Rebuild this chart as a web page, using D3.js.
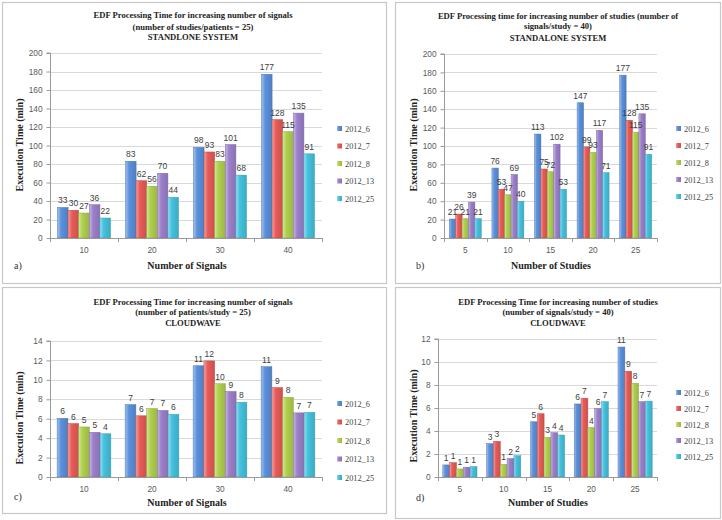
<!DOCTYPE html>
<html><head><meta charset="utf-8">
<script src="https://cdn.jsdelivr.net/npm/d3@7/dist/d3.min.js"></script>
<style>body{margin:0;background:#fff}svg{display:block}</style>
</head><body>
<svg id="chart" width="722" height="520"></svg>
<script>
// ---- data ----
const seriesNames = ["2012_6", "2012_7", "2012_8", "2012_13", "2012_25"];
const signalCategories = ["10", "20", "30", "40"];
const studyCategories = ["5", "10", "15", "20", "25"];
// rows = series (2012_6 .. 2012_25), columns = categories
const standaloneBySignals = [
  [33, 83, 98, 177],
  [30, 62, 93, 128],
  [27, 56, 83, 115],
  [36, 70, 101, 135],
  [21.6, 44, 68, 91]
];
const standaloneByStudies = [
  [20.6, 76, 113, 147, 177],
  [26, 53, 75, 99, 128],
  [21, 47, 72, 93, 115],
  [39, 69, 102, 117, 135],
  [21, 40, 53, 71, 91]
];
const cloudwaveBySignals = [
  [6.04, 7.45, 11.45, 11.35],
  [5.5, 6.3, 11.95, 9.2],
  [5.15, 7.05, 9.6, 8.2],
  [4.6, 6.85, 8.8, 6.6],
  [4.45, 6.45, 7.7, 6.65]
];
const cloudwaveByStudies = [
  [1.05, 2.9, 4.8, 6.35, 11.3],
  [1.25, 3.1, 5.5, 6.85, 9.2],
  [0.7, 1.1, 3.45, 4.3, 8.15],
  [0.85, 1.6, 3.85, 5.95, 6.55],
  [0.9, 1.85, 3.65, 6.55, 6.6]
];
const standaloneTicks = [0, 20, 40, 60, 80, 100, 120, 140, 160, 180, 200];
const cloudSignalTicks = [0, 2, 4, 6, 8, 10, 12, 14];
const cloudStudyTicks = [0, 2, 4, 6, 8, 10, 12];
const seriesColors = ["#5a90dc", "#e85b57", "#afd04c", "#9c80cb", "#45c2de"];

const titleA = ["EDF Processing Time for increasing number of signals", "(number of studies/patients = 25)", "STANDLONE SYSTEM"];
const titleB = ["EDF Processing time for increasing number of studies (number of", "signals/study = 40)", "STANDALONE SYSTEM"];
const titleC = ["EDF Processing Time for increasing number of signals", "(number of patients/study = 25)", "CLOUDWAVE"];
const titleD = ["EDF Processing Time for increasing number of studies", "(number of signals/study = 40)", "CLOUDWAVE"];

// ---- drawing ----
const svg = d3.select("#chart");
const defs = svg.append("defs");
seriesColors.forEach((c, i) => {
  const g = defs.append("linearGradient").attr("id", "grad" + i)
    .attr("x1", "0%").attr("x2", "100%").attr("y1", "0%").attr("y2", "0%");
  g.append("stop").attr("offset", "0%").attr("stop-color", d3.interpolateRgb(c, "#fff")(0.45));
  g.append("stop").attr("offset", "35%").attr("stop-color", c);
  g.append("stop").attr("offset", "100%").attr("stop-color", d3.color(c).darker(0.35));
});

function drawPanel(cfg) {
  const g = svg.append("g");
  g.append("rect").attr("x", cfg.box[0] + 0.5).attr("y", cfg.box[1] + 0.5)
    .attr("width", cfg.box[2] - cfg.box[0]).attr("height", cfg.box[3] - cfg.box[1])
    .attr("fill", "#fff").attr("stroke", "#c8c8c8").attr("stroke-width", 1.2);

  const p = cfg.plot;
  const y = d3.scaleLinear().domain([0, d3.max(cfg.ticks)]).range([p.b, p.t]);
  const x0 = d3.scaleBand().domain(cfg.cats).range([p.l, p.r]).paddingInner(cfg.pad).paddingOuter(cfg.pad / 2);
  const x1 = d3.scaleBand().domain(d3.range(seriesNames.length)).range([0, x0.bandwidth()]);

  // gridlines
  g.append("g").selectAll("line").data(cfg.ticks.slice(1)).join("line")
    .attr("x1", p.l).attr("x2", p.r).attr("y1", d => Math.round(y(d)) + 0.5).attr("y2", d => Math.round(y(d)) + 0.5)
    .attr("stroke", "#d9d9d9").attr("stroke-width", 1);

  // y axis
  const ya = g.append("g").attr("transform", `translate(${p.l + 0.5},0)`)
    .call(d3.axisLeft(y).tickValues(cfg.ticks).tickSize(4).tickPadding(4));
  ya.select(".domain").attr("stroke", "#9a9a9a").attr("d", `M-4,${p.t}H0V${p.b}`);
  ya.selectAll(".tick line").attr("stroke", "#9a9a9a");
  ya.selectAll("text").attr("font-family", "Liberation Sans, sans-serif").attr("font-size", 8.3).attr("fill", "#5a5a5a");

  // bars
  const rows = cfg.data;
  cfg.cats.forEach((cat, ci) => {
    rows.forEach((row, si) => {
      const v = row[ci];
      const bx = x0(cat) + x1(si);
      g.append("rect").attr("x", bx).attr("y", y(v)).attr("width", x1.bandwidth())
        .attr("height", y(0) - y(v)).attr("fill", `url(#grad${si})`)
        .attr("stroke", d3.color(seriesColors[si]).darker(0.6)).attr("stroke-width", 0.5);
    });
  });
  // labels
  cfg.cats.forEach((cat, ci) => {
    rows.forEach((row, si) => {
      const v = row[ci];
      g.append("text").attr("x", x0(cat) + x1(si) + x1.bandwidth() / 2).attr("y", y(v) - 4)
        .attr("text-anchor", "middle").attr("font-family", "Liberation Sans, sans-serif")
        .attr("font-size", 8.5).attr("fill", "#404040").text(Math.round(v));
    });
  });

  // x axis
  const xa = g.append("g");
  xa.append("line").attr("x1", p.l).attr("x2", p.r).attr("y1", p.b + 0.5).attr("y2", p.b + 0.5).attr("stroke", "#9a9a9a");
  const bounds = cfg.cats.map(c => x0(c) - x0.step() * x0.paddingInner() / 2).concat([p.r]);
  xa.selectAll("line.tk").data(bounds).join("line").attr("class", "tk")
    .attr("x1", d => Math.round(d) + 0.5).attr("x2", d => Math.round(d) + 0.5)
    .attr("y1", p.b).attr("y2", p.b + 4).attr("stroke", "#9a9a9a");
  xa.selectAll("text").data(cfg.cats).join("text")
    .attr("x", d => x0(d) + x0.bandwidth() / 2).attr("y", p.b + 15)
    .attr("text-anchor", "middle").attr("font-family", "Liberation Sans, sans-serif")
    .attr("font-size", 8.3).attr("fill", "#5a5a5a").text(d => d);

  // titles
  cfg.title.forEach((t, i) => {
    g.append("text").attr("x", cfg.titleX).attr("y", cfg.titleY[i]).attr("text-anchor", "middle")
      .attr("font-family", "Liberation Serif, serif").attr("font-weight", "bold")
      .attr("font-size", 8.6).attr("fill", "#222").text(t);
  });
  g.append("text").attr("transform", `translate(${cfg.yLab[0]},${cfg.yLab[1]}) rotate(-90)`)
    .attr("text-anchor", "middle").attr("font-family", "Liberation Serif, serif").attr("font-weight", "bold")
    .attr("font-size", 10).attr("fill", "#222").text("Execution Time (min)");
  g.append("text").attr("x", cfg.xLab[0]).attr("y", cfg.xLab[1]).attr("text-anchor", "middle")
    .attr("font-family", "Liberation Serif, serif").attr("font-weight", "bold")
    .attr("font-size", 10).attr("fill", "#222").text(cfg.xTitle);
  g.append("text").attr("x", cfg.letter[0]).attr("y", cfg.letter[1])
    .attr("font-family", "Liberation Serif, serif").attr("font-size", 10).attr("fill", "#333").text(cfg.letterText);

  // legend
  seriesNames.forEach((n, i) => {
    const ly = cfg.legend[1] + i * cfg.legend[2];
    g.append("rect").attr("x", cfg.legend[0]).attr("y", ly - 3).attr("width", 5).attr("height", 5)
      .attr("fill", `url(#grad${i})`);
    g.append("text").attr("x", cfg.legend[0] + 8).attr("y", ly + 2.5)
      .attr("font-family", "Liberation Serif, serif").attr("font-size", 8.3).attr("fill", "#444").text(n);
  });
}

drawPanel({
  box: [2, 2, 386, 283], plot: { l: 50, r: 322, t: 53, b: 238 }, ticks: standaloneTicks,
  cats: signalCategories, data: standaloneBySignals, pad: 0.22,
  title: titleA, titleX: 193, titleY: [18, 30, 40],
  yLab: [23, 145], xLab: [187, 269], xTitle: "Number of Signals", letter: [14, 269], letterText: "a)",
  legend: [337, 129, 17.5]
});
drawPanel({
  box: [395, 2, 720, 283], plot: { l: 444, r: 657, t: 54, b: 238 }, ticks: standaloneTicks,
  cats: studyCategories, data: standaloneByStudies, pad: 0.25,
  title: titleB, titleX: 558, titleY: [19, 29, 41],
  yLab: [417, 145], xLab: [551, 269], xTitle: "Number of Studies", letter: [416, 269], letterText: "b)",
  legend: [676, 129, 17]
});
drawPanel({
  box: [2, 287, 386, 513], plot: { l: 50, r: 322, t: 341, b: 477 }, ticks: cloudSignalTicks,
  cats: signalCategories, data: cloudwaveBySignals, pad: 0.21,
  title: titleC, titleX: 193, titleY: [305, 315, 326],
  yLab: [23, 418], xLab: [187, 506], xTitle: "Number of Signals", letter: [14, 500], letterText: "c)",
  legend: [337, 404, 18.5]
});
drawPanel({
  box: [395, 287, 720, 518], plot: { l: 438, r: 657, t: 339, b: 477 }, ticks: cloudStudyTicks,
  cats: studyCategories, data: cloudwaveByStudies, pad: 0.22,
  title: titleD, titleX: 558, titleY: [305, 315, 326],
  yLab: [417, 416], xLab: [548, 506], xTitle: "Number of Studies", letter: [416, 501], letterText: "d)",
  legend: [676, 393, 16]
});
</script>
</body></html>
